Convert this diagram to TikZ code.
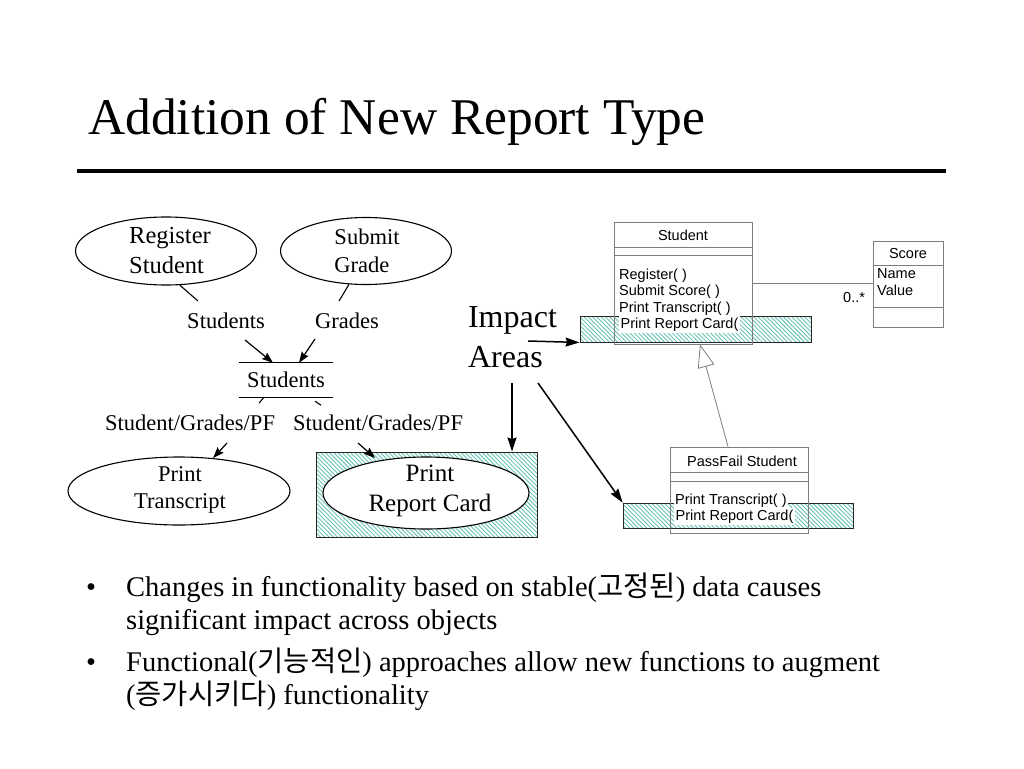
\documentclass[tikz,border=0pt]{standalone}
\usepackage{fontspec}
\setmainfont{Liberation Serif}
\newfontfamily\sansf{Liberation Sans}
\newfontfamily\krf{Noto Sans CJK KR}
\usetikzlibrary{arrows.meta,shapes.geometric,patterns.meta}
\definecolor{hatchc}{RGB}{105,195,180}
\definecolor{umlgray}{RGB}{125,125,125}
\begin{document}
\begin{tikzpicture}[x=1pt,y=-1pt,
  dfd/.style={ellipse, draw, line width=1.1pt, inner sep=0pt},
  lbl/.style={font=\fontsize{22.5}{27}\selectfont, inner sep=0pt},
  plain/.style={line width=1.1pt},
  flow/.style={line width=1.2pt, -{Stealth[length=11pt,width=8pt,inset=1.5pt]}},
  impactarrow/.style={line width=1.5pt, -{Stealth[length=14pt,width=9pt,inset=1.5pt]}},
  hatchbox/.style={draw=black!85, line width=0.9pt, inner sep=0pt,
     pattern={Lines[angle=-45,distance=3pt,line width=0.9pt]}, pattern color=hatchc},
  umlbox/.style={draw=umlgray, line width=0.8pt, inner sep=0pt},
  uml/.style={draw=umlgray, line width=0.8pt},
  umltxt/.style={font=\sansf\fontsize{14.5}{16.5}\selectfont, inner sep=0pt, anchor=base west},
  bul/.style={font=\fontsize{28.5}{33}\selectfont, inner sep=0pt}]
\fill[white] (0,0) rectangle (1024,768);
\useasboundingbox (0,0) rectangle (1024,768);

% title
\node[anchor=base west, inner sep=0pt, font=\fontsize{51.5}{60}\selectfont] (title) at (88,134) {Addition of New Report Type};
\draw[line width=4.5pt] (77,171) -- (946,171);

% DFD
\node[dfd, minimum width=181, minimum height=68] (reg) at (166,251) {};
\node[align=left, inner sep=0pt, font=\fontsize{24.5}{30}\selectfont] (regtxt) at (170,251) {Register\\Student};
\node[dfd, minimum width=171, minimum height=67] (sub) at (366,251) {};
\node[align=left, inner sep=0pt, font=\fontsize{22.5}{28}\selectfont] (subtxt) at (367,251) {Submit\\Grade};

\node[lbl, anchor=base] (lstud) at (226,328) {Students};
\node[lbl, anchor=base] (lgrad) at (347,328) {Grades};
\coordinate (e1) at (198,301);
\coordinate (e2) at (339,301);
\draw[plain] (reg.-68) -- (e1);
\draw[plain] (sub.-117) -- (e2);

\node[lbl, minimum width=94, minimum height=34] (store) at (286,380) {Students};
\draw[line width=1pt] (store.north west) -- (store.north east);
\draw[line width=1pt] (store.south west) -- (store.south east);
\coordinate (s1) at (245,340);
\coordinate (s2) at (315,339);
\draw[flow] (s1) -- ([xshift=-13]store.north);
\draw[flow] (s2) -- ([xshift=13]store.north);
\draw[plain] ([xshift=-22]store.south) -- ++(-5,6);
\draw[plain] ([xshift=29,yshift=-4]store.south) -- ++(6,4);

\node[lbl, anchor=base] (lsg1) at (190,430) {Student/Grades/PF};
\node[lbl, anchor=base] (lsg2) at (378,430) {Student/Grades/PF};

% print transcript
\node[dfd, minimum width=222, minimum height=68] (pt) at (179,491) {};
\node[align=center, inner sep=0pt, font=\fontsize{22.5}{27}\selectfont] (pttxt) at (180,490) {Print\\Transcript};

% hatched impact areas
\node[hatchbox, minimum width=221, minimum height=85] (h2) at (426.5,494.5) {};
\node[hatchbox, minimum width=231, minimum height=26] (h1) at (695.5,329) {};
\node[hatchbox, minimum width=230, minimum height=25] (h3) at (738,515.5) {};

\node[dfd, fill=white, minimum width=206, minimum height=72] (prc) at (426,493) {};
\node[align=center, inner sep=0pt, font=\fontsize{25}{30}\selectfont] (prctxt) at (430,491) {Print\\Report Card};

\coordinate (a3s) at (227,443);
\coordinate (a4s) at (358,443);
\coordinate (a4e) at (375,458);
\draw[flow] (a3s) -- (pt.44);
\draw[flow] (a4s) -- (a4e);

% impact label
\node[align=left, inner sep=0pt, font=\fontsize{32}{40}\selectfont] (impact) at (512.5,337.5) {Impact\\Areas};
\coordinate (i1) at (528,341);
\coordinate (i2) at (512,383);
\coordinate (i3) at (538,383);
\draw[impactarrow] (i1) -- (h1.south west);
\draw[impactarrow] (i2) -- (h2.north -| i2);
\draw[impactarrow] (i3) -- (h3.north west);

% UML Student
\node[umlbox, minimum width=138, minimum height=122] (stb) at (683,283) {};
\draw[uml] (stb.west |- 0,247) -- (stb.east |- 0,247);
\draw[uml] (stb.west |- 0,255) -- (stb.east |- 0,255);
\node[umltxt, anchor=base] (stname) at (683,240) {Student};
\node[umltxt] (m1) at (619,279) {Register( )};
\node[umltxt] (m2) at (619,295.5) {Submit Score( )};
\node[umltxt] (m3) at (619,312) {Print Transcript( )};
\node[umltxt, fill=white, inner sep=1.5pt] (m4) at (619,328.5) {Print Report Card(};

% UML Score
\node[umlbox, minimum width=70, minimum height=86] (scb) at (908,284) {};
\draw[uml] (scb.west |- 0,265) -- (scb.east |- 0,265);
\draw[uml] (scb.west |- 0,307) -- (scb.east |- 0,307);
\node[umltxt, anchor=base] (scname) at (908,258) {Score};
\node[umltxt] (sa1) at (877,278) {Name};
\node[umltxt] (sa2) at (877,295) {Value};
\draw[uml] (stb.east) -- (scb.west |- stb.east);
\node[umltxt] (mult) at (843,302) {0..*};

% UML PassFail
\node[umlbox, minimum width=138, minimum height=86] (pfb) at (739,490) {};
\draw[uml] (pfb.west |- 0,472) -- (pfb.east |- 0,472);
\draw[uml] (pfb.west |- 0,481) -- (pfb.east |- 0,481);
\node[umltxt, anchor=base] (pfname) at (742,466) {PassFail Student};
\node[umltxt, fill=white, inner sep=1pt] (p1) at (674,504) {Print Transcript( )};
\node[umltxt, fill=white, inner sep=1.5pt] (p2) at (674,520) {Print Report Card(};
\draw[uml, -{Triangle[open,length=23pt,width=17pt]}] ([xshift=-11]pfb.north) -- ([xshift=17]stb.south);

% bullets
\node[bul, anchor=base] (b1) at (91,596) {•};
\node[bul, anchor=base west] (t1) at (126,596) {Changes in functionality based on stable({\krf 고정된}) data causes};
\node[bul, anchor=base west] (t2) at (126,629) {significant impact across objects};
\node[bul, anchor=base] (b2) at (91,671) {•};
\node[bul, anchor=base west] (t3) at (126,671) {Functional({\krf 기능적인}) approaches allow new functions to augment};
\node[bul, anchor=base west] (t4) at (126,704) {({\krf 증가시키다}) functionality};
\end{tikzpicture}
\end{document}
